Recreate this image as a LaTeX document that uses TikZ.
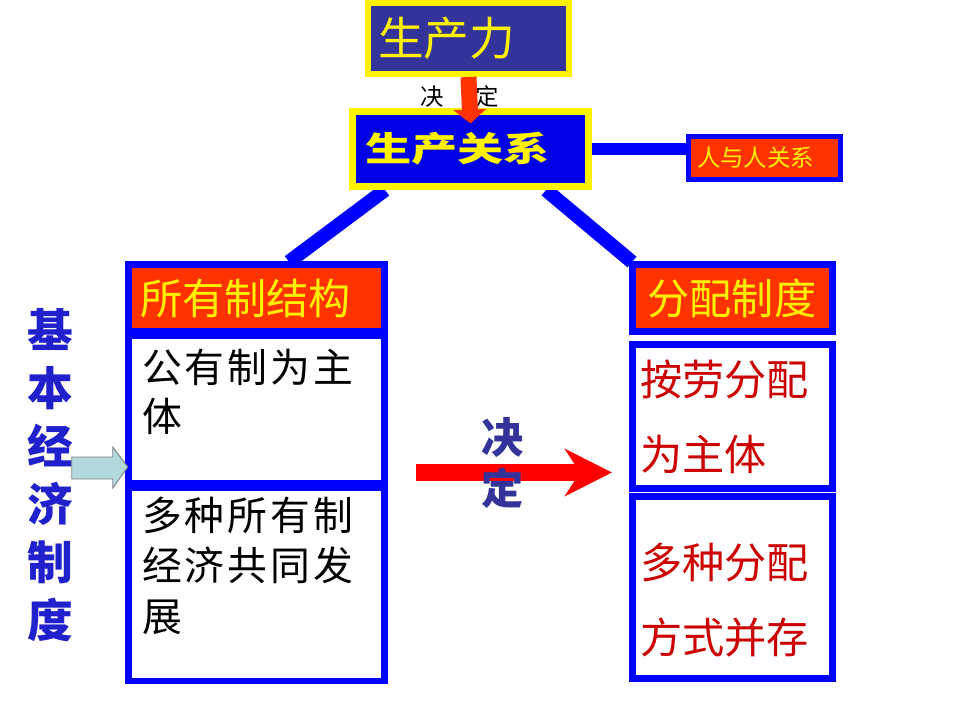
\documentclass[tikz,border=0pt]{standalone}
\usepackage{fontspec}
\newfontfamily\cjk{Noto Sans CJK SC}
\newfontfamily\cjkwide[FakeStretch=1.36]{Noto Sans CJK SC}
\usetikzlibrary{calc,arrows.meta,backgrounds}
\definecolor{prodblue}{RGB}{51,51,153}
\definecolor{boxblue}{RGB}{0,0,255}
\definecolor{relblue}{RGB}{0,0,230}
\definecolor{hotred}{RGB}{255,51,0}
\definecolor{textred}{RGB}{204,0,0}
\definecolor{labelblue}{RGB}{32,32,204}
\definecolor{paleblue}{RGB}{178,218,220}
\newcommand{\kgap}{\hspace{2.5pt}}
\begin{document}
\begin{tikzpicture}[x=0.03cm,y=-0.03cm,
    yellowbox/.style={draw=yellow,inner sep=0pt,text=yellow},
    bluebox/.style={draw=boxblue,line width=7*0.03cm,inner sep=0pt},
    whitebox/.style={fill=white,inner sep=0pt},
    link/.style={boxblue,line width=14*0.03cm},
    kai/.style={inner sep=0pt,align=left,anchor=north west,font=\cjk\fontsize{34pt}{42pt}\selectfont},
    redtext/.style={text=textred,align=left,text width=185*0.03cm,font=\cjk\fontsize{36pt}{64pt}\selectfont},
    headtext/.style={text=yellow,align=left,font=\cjk\fontsize{36pt}{40pt}\selectfont}]
    \useasboundingbox (0,0) rectangle (960,720);
    % top part
    \node[yellowbox,line width=6*0.03cm,fill=prodblue,minimum width=201*0.03cm,minimum height=71*0.03cm,
          text width=181*0.03cm,align=left,font=\cjk\fontsize{39pt}{44pt}\selectfont] (prod) at (468.5,38.5) {生产力};
    \node[font=\cjk\fontsize{20pt}{24pt}\selectfont] (decsmall) at (460,97) {决\hspace{27pt}定};
    \node[yellowbox,line width=7*0.03cm,fill=relblue,minimum width=236*0.03cm,minimum height=75*0.03cm,
          text width=211*0.03cm,align=left,font=\cjkwide\bfseries\fontsize{29pt}{32pt}\selectfont] (rel) at (470.5,149) {生产关系};
    \node[draw=boxblue,line width=5*0.03cm,fill=hotred,inner sep=0pt,minimum width=152*0.03cm,minimum height=43*0.03cm,
          text=yellow,text width=135*0.03cm,align=left,font=\cjk\fontsize{20pt}{22pt}\selectfont] (pers) at (764.5,158) {人与人关系};
    \draw[-{Triangle[length=14*0.03cm,width=32*0.03cm]},hotred,line width=16*0.03cm] (prod.south) -- ($(rel.north)+(0,15.5)$);
    % left column
    \node[fill=boxblue,inner sep=0pt,minimum width=263*0.03cm,minimum height=423*0.03cm] (own) at (256.5,472.5) {};
    \node[fill=hotred,inner sep=0pt,minimum width=249*0.03cm,minimum height=60*0.03cm,
          headtext,text width=233*0.03cm] (ownhead) at (256.5,298) {所有制结构};
    \node[whitebox,minimum width=249*0.03cm,minimum height=141*0.03cm] (pub) at (256.5,409.5) {};
    \node[whitebox,minimum width=249*0.03cm,minimum height=187*0.03cm] (multi) at (256.5,584.5) {};
    \node[kai] (pubtxt) at ($(pub.north west)+(10,10)$) {公\kgap 有\kgap 制\kgap 为\kgap 主\\体};
    \node[kai,font=\cjk\fontsize{34pt}{43pt}\selectfont] (multitxt) at ($(multi.north west)+(10,6)$)
        {多\kgap 种\kgap 所\kgap 有\kgap 制\\经\kgap 济\kgap 共\kgap 同\kgap 发\\展};
    % right column
    \node[bluebox,fill=hotred,minimum width=200*0.03cm,minimum height=67*0.03cm,
          headtext,text width=170*0.03cm] (dist) at (732.5,298) {分配制度};
    \node[bluebox,fill=white,minimum width=200*0.03cm,minimum height=144*0.03cm,redtext] (pay) at (732.5,416.5) {按劳分配\\为主体};
    \node[bluebox,fill=white,minimum width=200*0.03cm,minimum height=182*0.03cm,redtext] (mixed) at (732.5,587.5) {\\[-13pt]多种分配\\方式并存};
    % connectors
    \begin{scope}[on background layer]
        \draw[link] ($(rel.south)+(-85.5,0)$) -- ($(own.north)+(32.5,1)$);
        \draw[link] ($(rel.south)+(75.5,0)$) -- ($(dist.north)+(-100.5,1)$);
        \draw[link,line width=12*0.03cm] (rel.east) -- (rel.east -| pers.west);
    \end{scope}
    \node[font=\cjk\bfseries\fontsize{39pt}{49.5pt}\selectfont,text=labelblue,align=center,inner sep=0pt] (base) at (50,475) {基\\本\\经\\济\\制\\度};
    \filldraw[fill=paleblue,draw=gray,line width=0.8pt] ($(own.west)+(3,-5.5)$) -- ++(-15,-20) -- ++(0,10) -- ++(-41,0)
        -- ++(0,22) -- ++(41,0) -- ++(0,9) -- cycle;
    \draw[-{Stealth[length=47*0.03cm,width=47*0.03cm,inset=15*0.03cm]},red,line width=17*0.03cm]
        ($(own.east)+(28,0)$) -- ($(own.east -| pay.west)+(-17,0)$);
    \node[text=prodblue,align=center,inner sep=0pt,font=\cjk\bfseries\fontsize{36pt}{43pt}\selectfont] (decide) at (503,463) {决\\定};
\end{tikzpicture}
\end{document}
